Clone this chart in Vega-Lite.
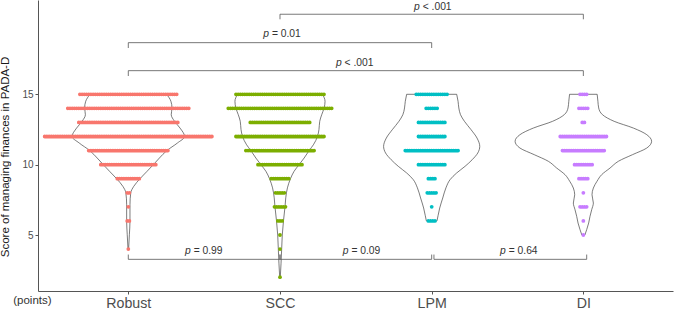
{
  "$schema": "https://vega.github.io/schema/vega-lite/v6.json",
  "width": 635,
  "height": 291,
  "autosize": {"type": "none"},
  "padding": {"left": 38, "top": 0, "right": 3, "bottom": 19},
  "background": "white",
  "config": {"view": {"stroke": null}, "font": "Liberation Sans"},
  "datasets": {
    "dots": [
      {"grp": "Robust", "score": 15, "n": 45}, {"grp": "Robust", "score": 14, "n": 56}, {"grp": "Robust", "score": 13, "n": 46},
      {"grp": "Robust", "score": 12, "n": 77}, {"grp": "Robust", "score": 11, "n": 37}, {"grp": "Robust", "score": 10, "n": 26},
      {"grp": "Robust", "score": 9, "n": 11}, {"grp": "Robust", "score": 8, "n": 2}, {"grp": "Robust", "score": 7, "n": 1},
      {"grp": "Robust", "score": 6, "n": 2}, {"grp": "Robust", "score": 4, "n": 1},
      {"grp": "SCC", "score": 15, "n": 41}, {"grp": "SCC", "score": 14, "n": 48}, {"grp": "SCC", "score": 13, "n": 28},
      {"grp": "SCC", "score": 12, "n": 41}, {"grp": "SCC", "score": 11, "n": 32}, {"grp": "SCC", "score": 10, "n": 21},
      {"grp": "SCC", "score": 9, "n": 9}, {"grp": "SCC", "score": 8, "n": 5}, {"grp": "SCC", "score": 7, "n": 6},
      {"grp": "SCC", "score": 6, "n": 3}, {"grp": "SCC", "score": 5, "n": 1}, {"grp": "SCC", "score": 4, "n": 1},
      {"grp": "SCC", "score": 2, "n": 1},
      {"grp": "LPM", "score": 15, "n": 15}, {"grp": "LPM", "score": 14, "n": 6}, {"grp": "LPM", "score": 13, "n": 13},
      {"grp": "LPM", "score": 12, "n": 13}, {"grp": "LPM", "score": 11, "n": 25}, {"grp": "LPM", "score": 10, "n": 13},
      {"grp": "LPM", "score": 9, "n": 4}, {"grp": "LPM", "score": 8, "n": 5}, {"grp": "LPM", "score": 7, "n": 1},
      {"grp": "LPM", "score": 6, "n": 4},
      {"grp": "DI", "score": 15, "n": 4}, {"grp": "DI", "score": 14, "n": 5}, {"grp": "DI", "score": 13, "n": 2},
      {"grp": "DI", "score": 12, "n": 22}, {"grp": "DI", "score": 11, "n": 20}, {"grp": "DI", "score": 10, "n": 9},
      {"grp": "DI", "score": 9, "n": 5}, {"grp": "DI", "score": 8, "n": 1}, {"grp": "DI", "score": 7, "n": 4},
      {"grp": "DI", "score": 6, "n": 1}, {"grp": "DI", "score": 5, "n": 1}
    ],
    "violin": [
      {"grp": "Robust", "y": 15.0, "w": 0.253}, {"grp": "Robust", "y": 14.5, "w": 0.281}, {"grp": "Robust", "y": 14.03, "w": 0.288},
      {"grp": "Robust", "y": 13.55, "w": 0.283}, {"grp": "Robust", "y": 13.08, "w": 0.305}, {"grp": "Robust", "y": 12.6, "w": 0.341},
      {"grp": "Robust", "y": 12.0, "w": 0.371}, {"grp": "Robust", "y": 11.54, "w": 0.324}, {"grp": "Robust", "y": 10.99, "w": 0.253},
      {"grp": "Robust", "y": 10.47, "w": 0.205}, {"grp": "Robust", "y": 10.0, "w": 0.165}, {"grp": "Robust", "y": 9.53, "w": 0.124},
      {"grp": "Robust", "y": 9.0, "w": 0.077}, {"grp": "Robust", "y": 8.46, "w": 0.036}, {"grp": "Robust", "y": 7.99, "w": 0.016},
      {"grp": "Robust", "y": 7.15, "w": 0.011}, {"grp": "Robust", "y": 5.97, "w": 0.011}, {"grp": "Robust", "y": 5.02, "w": 0.007},
      {"grp": "Robust", "y": 4.0, "w": 0.002},
      {"grp": "SCC", "y": 15.0, "w": 0.28}, {"grp": "SCC", "y": 14.5, "w": 0.297}, {"grp": "SCC", "y": 14.03, "w": 0.291},
      {"grp": "SCC", "y": 13.55, "w": 0.275}, {"grp": "SCC", "y": 13.08, "w": 0.262}, {"grp": "SCC", "y": 12.5, "w": 0.257},
      {"grp": "SCC", "y": 12.0, "w": 0.247}, {"grp": "SCC", "y": 11.41, "w": 0.22}, {"grp": "SCC", "y": 11.0, "w": 0.192},
      {"grp": "SCC", "y": 10.47, "w": 0.159}, {"grp": "SCC", "y": 10.0, "w": 0.126}, {"grp": "SCC", "y": 9.53, "w": 0.093},
      {"grp": "SCC", "y": 9.0, "w": 0.069}, {"grp": "SCC", "y": 8.35, "w": 0.049}, {"grp": "SCC", "y": 7.64, "w": 0.038},
      {"grp": "SCC", "y": 7.0, "w": 0.033}, {"grp": "SCC", "y": 6.0, "w": 0.023}, {"grp": "SCC", "y": 5.0, "w": 0.015},
      {"grp": "SCC", "y": 4.0, "w": 0.011}, {"grp": "SCC", "y": 3.0, "w": 0.007}, {"grp": "SCC", "y": 2.0, "w": 0.002},
      {"grp": "LPM", "y": 15.0, "w": 0.165}, {"grp": "LPM", "y": 14.5, "w": 0.174}, {"grp": "LPM", "y": 14.03, "w": 0.179},
      {"grp": "LPM", "y": 13.55, "w": 0.19}, {"grp": "LPM", "y": 13.08, "w": 0.216}, {"grp": "LPM", "y": 12.48, "w": 0.26},
      {"grp": "LPM", "y": 11.89, "w": 0.299}, {"grp": "LPM", "y": 11.3, "w": 0.317}, {"grp": "LPM", "y": 10.83, "w": 0.304},
      {"grp": "LPM", "y": 10.35, "w": 0.267}, {"grp": "LPM", "y": 9.88, "w": 0.22}, {"grp": "LPM", "y": 9.41, "w": 0.165},
      {"grp": "LPM", "y": 8.93, "w": 0.121}, {"grp": "LPM", "y": 8.35, "w": 0.094}, {"grp": "LPM", "y": 7.63, "w": 0.073},
      {"grp": "LPM", "y": 6.92, "w": 0.053}, {"grp": "LPM", "y": 6.37, "w": 0.042}, {"grp": "LPM", "y": 6.0, "w": 0.035},
      {"grp": "DI", "y": 15.0, "w": 0.091}, {"grp": "DI", "y": 14.5, "w": 0.096}, {"grp": "DI", "y": 14.03, "w": 0.101},
      {"grp": "DI", "y": 13.55, "w": 0.126}, {"grp": "DI", "y": 13.08, "w": 0.203}, {"grp": "DI", "y": 12.6, "w": 0.33},
      {"grp": "DI", "y": 12.13, "w": 0.418}, {"grp": "DI", "y": 11.66, "w": 0.45}, {"grp": "DI", "y": 11.18, "w": 0.418},
      {"grp": "DI", "y": 10.71, "w": 0.324}, {"grp": "DI", "y": 10.24, "w": 0.231}, {"grp": "DI", "y": 9.76, "w": 0.176},
      {"grp": "DI", "y": 9.29, "w": 0.121}, {"grp": "DI", "y": 8.82, "w": 0.09}, {"grp": "DI", "y": 8.34, "w": 0.066},
      {"grp": "DI", "y": 7.86, "w": 0.057}, {"grp": "DI", "y": 7.27, "w": 0.066}, {"grp": "DI", "y": 6.8, "w": 0.055},
      {"grp": "DI", "y": 6.33, "w": 0.044}, {"grp": "DI", "y": 5.85, "w": 0.035}, {"grp": "DI", "y": 5.38, "w": 0.022},
      {"grp": "DI", "y": 5.0, "w": 0.01}
    ],
    "brackets": [
      {"from": 2, "to": 4, "y": 20.69, "tip": 20.33, "val": "< .001", "lx": 2.884, "ly": 21.23},
      {"from": 1, "to": 3, "y": 18.67, "tip": 18.29, "val": "= 0.01", "lx": 1.89, "ly": 19.26},
      {"from": 1, "to": 4, "y": 16.68, "tip": 16.3, "val": "< .001", "lx": 2.369, "ly": 17.2},
      {"from": 1, "to": 2, "y": 3.27, "tip": 3.61, "val": "= 0.99", "lx": 1.374, "ly": 3.86},
      {"from": 2, "to": 3, "y": 3.27, "tip": 3.61, "val": "= 0.09", "lx": 2.414, "ly": 3.86},
      {"from": 3.015, "to": 4.022, "y": 3.27, "tip": 3.61, "val": "= 0.64", "lx": 3.451, "ly": 3.86}
    ]
  },
  "layer": [
    {
      "data": {"name": "violin"},
      "transform": [
        {"calculate": "indexof(['Robust','SCC','LPM','DI'], datum.grp) + 1", "as": "c"},
        {"calculate": "datum.c - datum.w", "as": "xl"},
        {"calculate": "datum.c + datum.w", "as": "xr"}
      ],
      "mark": {"type": "area", "orient": "horizontal", "fill": "white", "fillOpacity": 0, "stroke": "#444", "strokeWidth": 0.7, "interpolate": "monotone"},
      "encoding": {
        "x": {
          "field": "xl", "type": "quantitative",
          "scale": {"domain": [0.4046, 4.591], "nice": false, "zero": false},
          "axis": {
            "values": [1, 2, 3, 4],
            "labelExpr": "['','Robust','SCC','LPM','DI'][datum.value]",
            "grid": false, "domainColor": "#555", "tickColor": "#555", "tickSize": 3,
            "labelFontSize": 14.2, "labelColor": "#4d4d4d", "labelPadding": 2, "labelFlush": false,
            "title": "(points)", "titleFontSize": 11.5, "titleFontWeight": "normal", "titleColor": "#333",
            "titleX": -25.3, "titleY": 9.5, "titleAlign": "left", "titleBaseline": "middle", "titleAnchor": "start"
          }
        },
        "x2": {"field": "xr"},
        "y": {
          "field": "y", "type": "quantitative",
          "scale": {"domain": [1.02, 21.702], "nice": false, "zero": false},
          "axis": {
            "values": [5, 10, 15], "grid": false, "domainColor": "#555", "tickColor": "#555", "tickSize": 3,
            "labelFontSize": 10, "labelColor": "#4d4d4d", "labelPadding": 2,
            "title": "Score of managing finances in PADA-D", "titleFontSize": 11.5, "titleFontWeight": "normal",
            "titleColor": "#1a1a1a", "titleX": -33, "titleY": 156.5, "titleBaseline": "middle", "titleAlign": "center"
          }
        },
        "detail": {"field": "grp"}
      }
    },
    {
      "data": {"name": "dots"},
      "transform": [
        {"calculate": "indexof(['Robust','SCC','LPM','DI'], datum.grp) + 1", "as": "c"},
        {"calculate": "datum.c - (datum.n - 1) * 0.007253", "as": "xa"},
        {"calculate": "datum.c + (datum.n - 1) * 0.007253 + 0.0001", "as": "xb"}
      ],
      "mark": {"type": "rule", "strokeWidth": 3.8, "strokeCap": "round", "strokeDash": [0, 2.2]},
      "encoding": {
        "x": {"field": "xa", "type": "quantitative", "title": "(points)"},
        "x2": {"field": "xb"},
        "y": {"field": "score", "type": "quantitative", "title": "Score of managing finances in PADA-D"},
        "color": {
          "field": "grp", "type": "nominal",
          "scale": {"domain": ["Robust", "SCC", "LPM", "DI"], "range": ["#F8766D", "#7CAE00", "#00BFC4", "#C77CFF"]},
          "legend": null
        }
      }
    },
    {
      "data": {"name": "brackets"},
      "mark": {"type": "rule", "color": "#555", "strokeWidth": 0.8},
      "encoding": {
        "x": {"field": "from", "type": "quantitative", "title": "(points)"},
        "x2": {"field": "to"},
        "y": {"field": "y", "type": "quantitative", "title": "Score of managing finances in PADA-D"}
      }
    },
    {
      "data": {"name": "brackets"},
      "mark": {"type": "rule", "color": "#555", "strokeWidth": 0.8},
      "encoding": {
        "x": {"field": "from", "type": "quantitative", "title": "(points)"},
        "y": {"field": "y", "type": "quantitative", "title": "Score of managing finances in PADA-D"},
        "y2": {"field": "tip"}
      }
    },
    {
      "data": {"name": "brackets"},
      "mark": {"type": "rule", "color": "#555", "strokeWidth": 0.8},
      "encoding": {
        "x": {"field": "to", "type": "quantitative", "title": "(points)"},
        "y": {"field": "y", "type": "quantitative", "title": "Score of managing finances in PADA-D"},
        "y2": {"field": "tip"}
      }
    },
    {
      "data": {"name": "brackets"},
      "mark": {"type": "text", "text": "p", "fontStyle": "italic", "fontSize": 10.3, "color": "#333", "align": "left", "baseline": "middle"},
      "encoding": {
        "x": {"field": "lx", "type": "quantitative", "title": "(points)"},
        "y": {"field": "ly", "type": "quantitative", "title": "Score of managing finances in PADA-D"}
      }
    },
    {
      "data": {"name": "brackets"},
      "mark": {"type": "text", "fontSize": 10.3, "color": "#333", "align": "left", "baseline": "middle", "dx": 8.6},
      "encoding": {
        "x": {"field": "lx", "type": "quantitative", "title": "(points)"},
        "y": {"field": "ly", "type": "quantitative", "title": "Score of managing finances in PADA-D"},
        "text": {"field": "val"}
      }
    }
  ]
}
